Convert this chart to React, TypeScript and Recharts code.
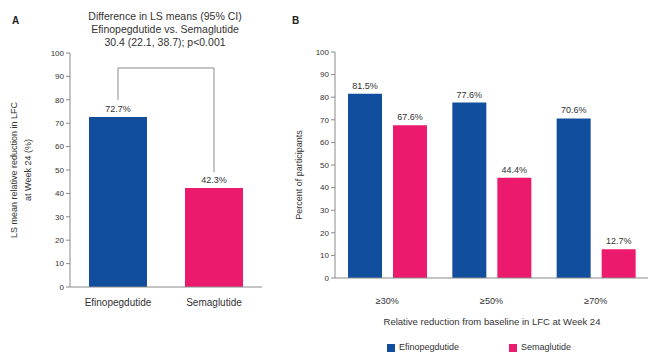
import React from 'react';
import { BarChart, Bar, XAxis, YAxis, LabelList, ReferenceLine, Legend } from 'recharts';

const categoriesA = ['Efinopegdutide', 'Semaglutide'];
const valuesA = [72.7, 42.3];
const categoriesB = ['≥30%', '≥50%', '≥70%'];
const efinoB = [81.5, 77.6, 70.6];
const semaB = [67.6, 44.4, 12.7];
const yTicks = [0, 10, 20, 30, 40, 50, 60, 70, 80, 90, 100];
const titleLines = ['Difference in LS means (95% CI)', 'Efinopegdutide vs. Semaglutide', '30.4 (22.1, 38.7); p<0.001'];
const bracketTop = 93.6;
const bracketLeftEnd = 80;
const bracketRightEnd = 49;

const BLUE = '#114f9e';
const PINK = '#ec1a6c';
const AXIS = '#8a8a8a';
const TEXT = '#333';
const FONT = 'Liberation Sans, Arial, sans-serif';

const dataA = categoriesA.map((c, i) => ({ name: c, value: valuesA[i], fill: i === 0 ? BLUE : PINK }));
const dataB = categoriesB.map((c, i) => ({ name: c, efino: efinoB[i], sema: semaB[i] }));

const pct = (v: any) => `${v}%`;

export default function App() {
  return (
    <div style={{ position: 'absolute', left: 0, top: 0, width: 649, height: 352, background: '#fff', fontFamily: FONT }}>
      <div style={{ position: 'absolute', left: 0, top: 0 }}>
        <BarChart width={275} height={352} data={dataA} margin={{ top: 53, right: 13, bottom: 0, left: 0 }}>
          <XAxis dataKey="name" height={65} tickLine={false} axisLine={{ stroke: AXIS }} tick={{ fontSize: 10, fill: TEXT }} tickMargin={6} />
          <YAxis width={70} domain={[0, 100]} ticks={yTicks} interval={0} tickSize={4} axisLine={{ stroke: AXIS }} tickLine={{ stroke: AXIS }} tick={{ fontSize: 8, fill: TEXT }} />
          <ReferenceLine segment={[{ x: categoriesA[0], y: bracketTop }, { x: categoriesA[1], y: bracketTop }]} stroke={AXIS} ifOverflow="visible" />
          <ReferenceLine segment={[{ x: categoriesA[0], y: bracketTop }, { x: categoriesA[0], y: bracketLeftEnd }]} stroke={AXIS} ifOverflow="visible" />
          <ReferenceLine segment={[{ x: categoriesA[1], y: bracketTop }, { x: categoriesA[1], y: bracketRightEnd }]} stroke={AXIS} ifOverflow="visible" />
          <Bar dataKey="value" barSize={58} isAnimationActive={false}>
            <LabelList dataKey="value" position="top" formatter={pct} style={{ fontSize: 9, fill: TEXT }} />
          </Bar>
        </BarChart>
      </div>
      <div style={{ position: 'absolute', left: 280, top: 0 }}>
        <BarChart width={369} height={352} data={dataB} margin={{ top: 52, right: 1, bottom: 0, left: 0 }} barGap={11}>
          <XAxis dataKey="name" height={64} tickLine={false} axisLine={{ stroke: AXIS }} tick={{ fontSize: 9, fill: TEXT }} tickMargin={14} />
          <YAxis width={55} domain={[0, 100]} ticks={yTicks} interval={0} tickSize={4} axisLine={{ stroke: AXIS }} tickLine={{ stroke: AXIS }} tick={{ fontSize: 8, fill: TEXT }} />
          <Legend verticalAlign="bottom" iconType="square" iconSize={8} wrapperStyle={{ fontSize: 9, color: TEXT, bottom: 0, left: 40 }} formatter={(v: any) => <span style={{ color: TEXT, marginRight: 40 }}>{v}</span>} />
          <Bar dataKey="efino" name="Efinopegdutide" fill={BLUE} barSize={34} isAnimationActive={false}>
            <LabelList dataKey="efino" position="top" formatter={pct} style={{ fontSize: 9, fill: TEXT }} />
          </Bar>
          <Bar dataKey="sema" name="Semaglutide" fill={PINK} barSize={34} isAnimationActive={false}>
            <LabelList dataKey="sema" position="top" formatter={pct} style={{ fontSize: 9, fill: TEXT }} />
          </Bar>
        </BarChart>
      </div>
      <svg width={649} height={352} style={{ position: 'absolute', left: 0, top: 0, pointerEvents: 'none' }} fontFamily={FONT}>
        <text x={12} y={24} fontSize={10} fontWeight="bold" fill="#222">A</text>
        <text x={292} y={24} fontSize={10} fontWeight="bold" fill="#222">B</text>
        {titleLines.map((t, i) => (
          <text key={i} x={165} y={20 + i * 13} fontSize={10.5} textAnchor="middle" fill={TEXT}>{t}</text>
        ))}
        <text transform="translate(17,170) rotate(-90)" fontSize={9} textAnchor="middle" fill={TEXT}>LS mean relative reduction in LFC</text>
        <text transform="translate(31,170) rotate(-90)" fontSize={9} textAnchor="middle" fill={TEXT}>at Week 24 (%)</text>
        <text transform="translate(302,175) rotate(-90)" fontSize={9} textAnchor="middle" fill={TEXT}>Percent of participants</text>
        <text x={492} y={325} fontSize={9.5} textAnchor="middle" fill={TEXT}>Relative reduction from baseline in LFC at Week 24</text>
      </svg>
    </div>
  );
}
